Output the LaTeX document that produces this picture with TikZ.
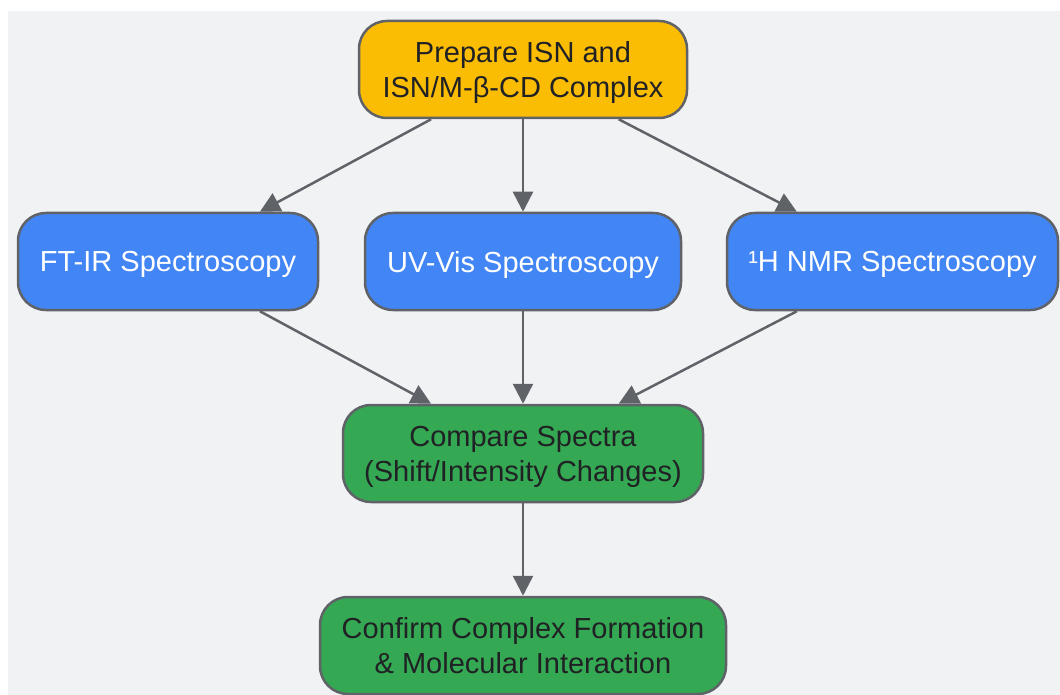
\documentclass[tikz,border=0pt]{standalone}
\usepackage{fontspec}
\setmainfont{Liberation Sans}
\usetikzlibrary{arrows.meta}
\definecolor{bgc}{HTML}{F1F2F4}
\definecolor{edgec}{HTML}{5F6368}
\definecolor{orangec}{HTML}{FBBC04}
\definecolor{bluec}{HTML}{4285F4}
\definecolor{greenc}{HTML}{34A853}
\definecolor{textc}{HTML}{202124}
\tikzset{
  box/.style={draw=edgec, line width=2.5pt, rounded corners=28pt, align=center,
    minimum height=97pt, inner xsep=0pt, inner ysep=0pt, text depth=0pt,
    font=\fontsize{29}{35}\selectfont},
  orangebox/.style={box, fill=orangec, text=textc},
  bluebox/.style={box, fill=bluec, text=white},
  greenbox/.style={box, fill=greenc, text=textc},
  arr/.style={draw=edgec, line width=2.5pt, -{Triangle[length=20pt,width=20pt]}}
}
\begin{document}
\begin{tikzpicture}[x=1pt,y=-1pt]
\useasboundingbox (0,0) rectangle (1060,695);
\fill[bgc] (8,11) rectangle (1060,695);
\node[orangebox, minimum width=328pt] (prep) at (523,69.5) {Prepare ISN and\\ISN/M-β-CD Complex};
\node[bluebox, minimum width=300pt] (ftir) at (168,261.5) {FT-IR Spectroscopy};
\node[bluebox, minimum width=316pt] (uvvis) at (523,261.5) {UV-Vis Spectroscopy};
\node[bluebox, minimum width=331pt] (nmr) at (892.5,261.5) {¹H NMR Spectroscopy};
\node[greenbox, minimum width=360pt] (comp) at (523,453.5) {Compare Spectra\\(Shift/Intensity Changes)};
\node[greenbox, minimum width=406pt] (conf) at (523,645.5) {Confirm Complex Formation\\\& Molecular Interaction};
\draw[arr] (prep) -- (ftir);
\draw[arr] (prep) -- (uvvis);
\draw[arr] (prep) -- (nmr);
\draw[arr] (ftir) -- (comp);
\draw[arr] (uvvis) -- (comp);
\draw[arr] (nmr) -- (comp);
\draw[arr] (comp) -- (conf);
\end{tikzpicture}
\end{document}
